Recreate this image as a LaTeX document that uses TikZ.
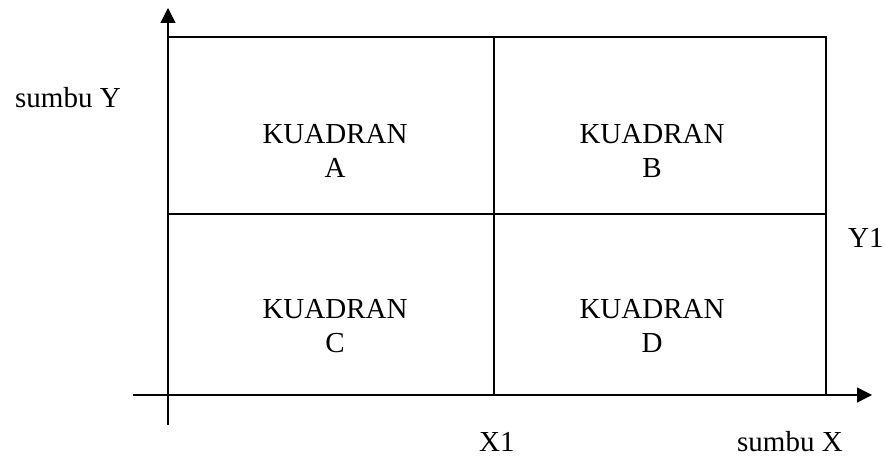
\documentclass[tikz,border=0pt]{standalone}
\usepackage{fontspec}
\setmainfont{Liberation Serif}
\usetikzlibrary{arrows.meta}
\begin{document}
\begin{tikzpicture}[x=1pt,y=-1pt,
  axis/.style={line width=1.4pt,-{Triangle[length=15pt,width=15pt]}},
  grid line/.style={line width=1.4pt},
  lbl/.style={inner sep=0pt,font=\fontsize{29}{34}\selectfont},
  quad/.style={lbl,align=center,anchor=base}]
\useasboundingbox (0,0) rectangle (885,457);
% corners
\coordinate (tl) at (168,37);
\coordinate (tm) at (494,37);
\coordinate (tr) at (826,37);
\coordinate (ml) at (168,214);
\coordinate (mr) at (826,214);
\coordinate (bl) at (168,395);
\coordinate (bm) at (494,395);
\coordinate (br) at (826,395);
% axes ends
\coordinate (ystart) at (168,425);
\coordinate (yend) at (168,8);
\coordinate (xstart) at (133,395);
\coordinate (xend) at (872,395);
\draw[axis] (ystart) -- (yend);
\draw[axis] (xstart) -- (xend);
% quadrant lines
\draw[grid line] (tl) -- (tr) -- (br);
\draw[grid line] (ml) -- (mr);
\draw[grid line] (tm) -- (bm);
% labels
\node[quad] (qa) at (335,178) {KUADRAN\\A};
\node[quad] (qb) at (652,178) {KUADRAN\\B};
\node[quad] (qc) at (335,352) {KUADRAN\\C};
\node[quad] (qd) at (652,352) {KUADRAN\\D};
\node[lbl,anchor=base west] (sy) at (15,108) {sumbu Y};
\node[lbl,anchor=base west] (y1) at (848,247) {Y1};
\node[lbl,anchor=base west] (x1) at (479,451) {X1};
\node[lbl,anchor=base west] (sx) at (737,451) {sumbu X};
\end{tikzpicture}
\end{document}
